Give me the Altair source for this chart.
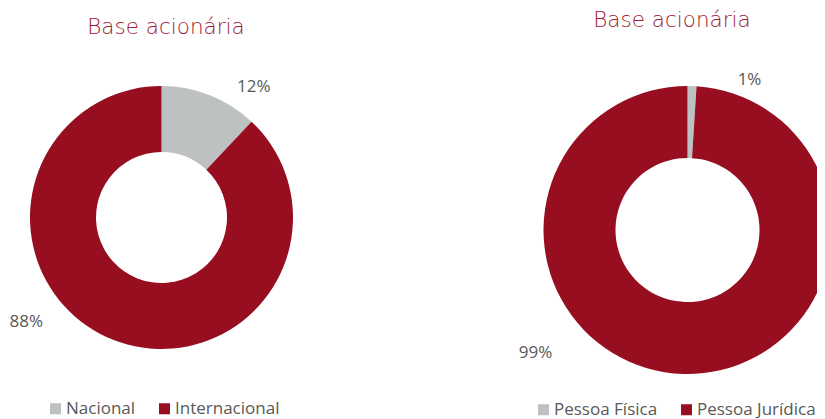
import altair as alt
import pandas as pd

# ---- data ----
title_text = "Base acionária"
left_categories = ["Nacional", "Internacional"]
left_values = [12, 88]
left_labels = ["12%", "88%"]
right_categories = ["Pessoa Física", "Pessoa Jurídica"]
right_values = [1, 99]
right_labels = ["1%", "99%"]

GRAY = "#BEC1C1"
RED = "#960E20"
TITLE_COLOR = "#9E1A30"
TEXT_COLOR = "#595959"
FONT = "Open Sans"

left_df = pd.DataFrame({"cat": left_categories, "value": left_values,
                        "label": left_labels, "ord": [0, 1]})
right_df = pd.DataFrame({"cat": right_categories, "value": right_values,
                         "label": right_labels, "ord": [0, 1]})


def donut(df, cats, cx, cy, r_out, r_in, legend_x, legend_y):
    color = alt.Color(
        "cat:N",
        scale=alt.Scale(domain=cats, range=[GRAY, RED]),
        legend=alt.Legend(
            title=None, orient="none", direction="horizontal",
            legendX=legend_x, legendY=legend_y,
            symbolType="square", symbolSize=121, symbolStrokeWidth=0,
            labelFont=FONT, labelFontSize=17, labelColor=TEXT_COLOR,
            labelOffset=2, columnPadding=20, padding=0, labelLimit=300,
        ),
    )
    return alt.Chart(df).mark_arc(outerRadius=r_out, innerRadius=r_in).encode(
        theta=alt.Theta("value:Q", stack=True),
        color=color,
        order=alt.Order("ord:Q"),
        x=alt.value(cx),
        y=alt.value(cy),
    )


def label(df, cat, cx, cy, radius, dx, dy):
    return (
        alt.Chart(df)
        .transform_window(cum="sum(value)", sort=[alt.SortField("ord")])
        .transform_calculate(mid="datum.cum - datum.value / 2")
        .transform_filter(alt.datum.cat == cat)
        .mark_text(radius=radius, dx=dx, dy=dy, font=FONT, fontSize=17,
                   color=TEXT_COLOR, align="center", baseline="middle")
        .encode(
            theta=alt.Theta("mid:Q", scale=alt.Scale(domain=[0, 100])),
            text="label:N",
            x=alt.value(cx),
            y=alt.value(cy),
        )
    )


def title(x, y):
    return alt.Chart(pd.DataFrame({"t": [title_text]})).mark_text(
        font="DejaVu Sans", fontSize=21.5, fontWeight=200, color=TITLE_COLOR,
        align="center", baseline="alphabetic",
    ).encode(text="t:N", x=alt.value(x), y=alt.value(y))


LCX, LCY = 153.5, 209.5
RCX, RCY = 679.5, 222

chart = alt.layer(
    donut(left_df, left_categories, LCX, LCY, 131.5, 65.5, 39, 392),
    label(left_df, "Nacional", LCX, LCY, 150, 37, 9),
    label(left_df, "Internacional", LCX, LCY, 150, -80, -35),
    donut(right_df, right_categories, RCX, RCY, 144, 72, 527, 393),
    label(right_df, "Pessoa Física", RCX, RCY, 160, 57, 10),
    label(right_df, "Pessoa Jurídica", RCX, RCY, 160, -147, -37),
    title(158, 26),
    title(664, 18.5),
).resolve_scale(
    theta="independent", color="independent"
).properties(
    width=809, height=411, padding=0,
    autosize=alt.AutoSizeParams(type="none"),
).configure_view(stroke=None)

chart.save("out.html", embed_options={"renderer": "svg", "actions": False})
